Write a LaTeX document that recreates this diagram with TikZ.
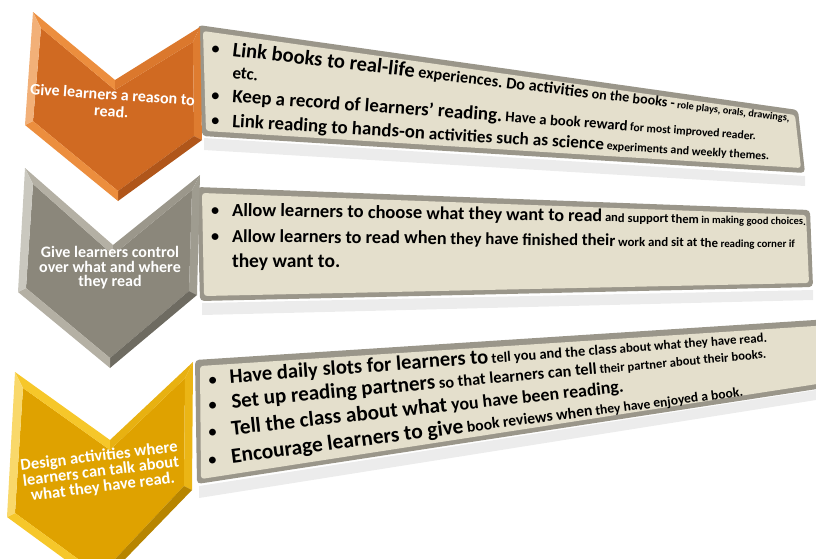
\documentclass[tikz,border=0pt]{standalone}
\usepackage{fontspec}
\setmainfont{Carlito}
\usetikzlibrary{calc}
\newcommand\sz[1]{\fontsize{#1}{#1}\selectfont}
\newcommand\szl[2]{\fontsize{#1}{#2}\selectfont}
\definecolor{beige}{HTML}{E4DFCC}
\definecolor{frameg}{HTML}{9A968A}
\definecolor{orMain}{HTML}{D06A22}
\definecolor{orLight}{HTML}{EC8E3E}
\definecolor{orDark}{HTML}{B0561A}
\definecolor{grMain}{HTML}{8B877B}
\definecolor{grLight}{HTML}{B4B0A4}
\definecolor{grDark}{HTML}{6E6B61}
\definecolor{goMain}{HTML}{DFA200}
\definecolor{goLight}{HTML}{F6C72A}
\definecolor{goDark}{HTML}{B78500}
\tikzset{
  wordst/.style={anchor=base west, inner sep=0pt, outer sep=0pt, text=black, text height=0.66em, text depth=0.14em},
  tl/.style={anchor=base west, inner sep=0pt, outer sep=0pt, font=\bfseries, text=black, text height=0.66em, text depth=0.14em},
  bul/.style={anchor=base, inner sep=0pt, outer sep=0pt, font=\bfseries\sz{16}},
  chevtext/.style={text=white, align=center, inner sep=0pt},
  boxframe/.style={fill=frameg, rounded corners=4pt},
  boxface/.style={fill=beige, rounded corners=3pt},
  boxshadow/.style={fill=black!12, opacity=0.6},
}
% ---- chevron drawn from coordinates <p>o1..<p>o6 and <p>i1..<p>i6
\newcommand\chevron[4]{%
  \fill[#2] (#1i1)--(#1i2)--(#1i3)--(#1i4)--(#1i5)--(#1i6)--cycle;
  \fill[#3] (#1o1)--(#1o2)--(#1i2)--(#1i1)--cycle;
  \fill[#2!60!#3] (#1o2)--(#1o3)--(#1i3)--(#1i2)--cycle;
  \fill[#2!50!#3] (#1o3)--(#1o4)--(#1i4)--(#1i3)--cycle;
  \fill[#4] (#1o4)--(#1o5)--(#1i5)--(#1i4)--cycle;
  \fill[#3] (#1o5)--(#1o6)--(#1i6)--(#1i5)--cycle;
  \fill[#3!70!white] (#1o6)--(#1o1)--(#1i1)--(#1i6)--cycle;
}
% ---- perspective text lines: one node per word
\newcount\wcount
\newdimen\linenat
\newbox\measbox
\def\cursz{18}
\def\curline{x}
\def\prevw{x}
\newcommand\placeword[1]{%
  \ifnum\wcount=0
    \node[wordst, font=\bfseries\sz{\cursz}] (\curline w\the\wcount) at (0,0) {#1};%
  \else
    \node[wordst, font=\bfseries\sz{\cursz}] (\curline w\the\wcount) at (\prevw.base east) {\ #1};%
  \fi
  \edef\prevw{\curline w\the\wcount}%
  \advance\wcount by 1
}
\def\wsplit#1 #2\wend{\placeword{#1}\ifx\relax#2\relax\else\wsplit#2\wend\fi}
\def\ckmeasure#1#2{\sz{#1}#2\ }
\def\ckplace#1#2{\def\cursz{#1}\wsplit#2 \wend}
% measure (outside the picture): #1 name, #2 target width, #3 chunks
\newcommand\measureline[3]{%
  \setbox\measbox=\hbox{\normalfont\bfseries\let\ck\ckmeasure #3\unskip}%
  \linenat=\wd\measbox
  \pgfmathsetmacro\lfactmp{#2/\the\linenat}%
  \expandafter\xdef\csname fac@#1\endcsname{\lfactmp}%
}
% place: #1 name, #2 x, #3 y, #4 angle, #5 chunks
\newcommand\wline[5]{%
  \begin{scope}[shift={(#2,#3)}, rotate=#4, scale=\csname fac@#1\endcsname, transform shape]
    \def\curline{#1}\wcount=0
    \let\ck\ckplace #5
  \end{scope}
}
\def\TLa{\ck{19}{Link books to real-life}\ck{15}{experiences. Do activities}\ck{13}{on the books -}\ck{9.5}{role plays, orals, drawings,}}
\def\TLb{\ck{18}{Keep a record of learners’ reading.}\ck{14}{Have a book reward}\ck{11}{for most improved reader.}}
\def\TLc{\ck{17.5}{Link reading to hands-on}\ck{16}{activities such as science}\ck{11}{experiments and weekly themes.}}
\def\TLd{\ck{18.5}{Allow learners to choose}\ck{18}{what they want to read}\ck{12.5}{and support them}\ck{10.5}{in making good choices.}}
\def\TLe{\ck{18.5}{Allow learners to read when}\ck{17}{they have finished their}\ck{13}{work and sit at the}\ck{11}{reading corner if}}
\def\TLf{\ck{20}{Have daily slots for learners to}\ck{14}{tell you and the class}\ck{12.5}{about what they have read.}}
\def\TLg{\ck{20}{Set up reading partners}\ck{15.5}{so that learners can tell}\ck{12}{their partner about their books.}}
\def\TLh{\ck{19}{Tell the class about what}\ck{16}{you have been reading.}}
\def\TLi{\ck{20.5}{Encourage learners to give}\ck{15}{book reviews when}\ck{13}{they have enjoyed a book.}}
\begin{document}
\measureline{la}{564}{\TLa}%
\measureline{lb}{526}{\TLb}%
\measureline{lc}{539}{\TLc}%
\measureline{ld}{575}{\TLd}%
\measureline{le}{565}{\TLe}%
\measureline{lf}{540}{\TLf}%
\measureline{lg}{538}{\TLg}%
\measureline{lh}{395}{\TLh}%
\measureline{li}{517}{\TLi}%
\begin{tikzpicture}[x=1pt,y=-1pt]
\useasboundingbox (0,0) rectangle (816,558);
\clip (0,0) rectangle (816,558);

% ---------- shadows ----------
\fill[boxshadow] (204,138)--(805,176)--(805,186)--(204,150)--cycle;
\fill[boxshadow] (202,303)--(813,290)--(813,300)--(202,315)--cycle;
\fill[boxshadow] (199,486)--(816,390)--(816,400)--(199,498)--cycle;

% ---------- box 1 ----------
\fill[boxframe] (198,25)--(798,110)--(805,173)--(202,136)--cycle;
\fill[boxface] (203,31)--(795,115)--(801,168)--(206,131)--cycle;
% ---------- box 2 ----------
\fill[boxframe] (197,187)--(810,210)--(813,287)--(200,301)--cycle;
\fill[boxface] (202,193)--(806,215)--(809,283)--(204,296)--cycle;
% ---------- box 3 ----------
\fill[boxframe] (195,360)--(830,319)--(830,387)--(197,484)--cycle;
\fill[boxface] (200,366)--(830,325)--(830,382)--(201,479)--cycle;

% ---------- chevrons ----------
\coordinate (Ao1) at (33,12);  \coordinate (Ao2) at (115,80);
\coordinate (Ao3) at (200,27); \coordinate (Ao4) at (202,140);
\coordinate (Ao5) at (118,201);\coordinate (Ao6) at (25,125);
\coordinate (Ai1) at (41,28);  \coordinate (Ai2) at (115,90);
\coordinate (Ai3) at (193,42); \coordinate (Ai4) at (194,136);
\coordinate (Ai5) at (118,191);\coordinate (Ai6) at (33,121);
\chevron{A}{orMain}{orLight}{orDark}

\coordinate (Bo1) at (25,168);  \coordinate (Bo2) at (113,245);
\coordinate (Bo3) at (200,175); \coordinate (Bo4) at (197,295);
\coordinate (Bo5) at (110,368); \coordinate (Bo6) at (18,292);
\coordinate (Bi1) at (33,184);  \coordinate (Bi2) at (113,255);
\coordinate (Bi3) at (192,190); \coordinate (Bi4) at (189,291);
\coordinate (Bi5) at (110,358); \coordinate (Bi6) at (26,288);
\chevron{B}{grMain}{grLight}{grDark}

\coordinate (Co1) at (15,372);  \coordinate (Co2) at (110,440);
\coordinate (Co3) at (193,362); \coordinate (Co4) at (192,490);
\coordinate (Co5) at (100,585); \coordinate (Co6) at (7,517);
\coordinate (Ci1) at (23,388);  \coordinate (Ci2) at (110,450);
\coordinate (Ci3) at (185,378); \coordinate (Ci4) at (184,486);
\coordinate (Ci5) at (100,575); \coordinate (Ci6) at (15,513);
\chevron{C}{goMain}{goLight}{goDark}

% ---------- chevron texts ----------
\node[chevtext, rotate=-4, font=\bfseries\szl{16}{17}] (ta) at (112,103) {Give learners a reason to\\read.};
\node[chevtext, font=\bfseries\szl{16}{14.5}] (tb) at (110,268) {Give learners control\\over what and where\\they read};
\node[chevtext, rotate=7, font=\bfseries\szl{16.5}{15.5}] (tc) at (101,472) {Design activities where\\learners can talk about\\what they have read.};

% ---------- box 1 text ----------
\node[bul, rotate=-6.7] (b1a) at (215,54) {•};
\node[bul, rotate=-4.1] (b1b) at (215,101) {•};
\node[bul, rotate=-3.5] (b1c) at (215,126) {•};
\wline{la}{232}{56}{-6.7}{\TLa}
\node[tl, rotate=-6.7, font=\bfseries\sz{17}] (lae) at (232,78) {etc.};
\wline{lb}{232}{102}{-4.14}{\TLb}
\wline{lc}{232}{127}{-3.51}{\TLc}

% ---------- box 2 text ----------
\node[bul, rotate=-0.9] (b2a) at (215,216) {•};
\node[bul, rotate=-0.6] (b2b) at (215,242) {•};
\wline{ld}{232}{216}{-0.9}{\TLd}
\wline{le}{232}{242}{-0.61}{\TLe}
\node[tl, font=\bfseries\sz{19.5}] (lee) at (232,267) {they want to.};

% ---------- box 3 text ----------
\node[bul, rotate=4.4] (b3a) at (213,385) {•};
\node[bul, rotate=5.3] (b3b) at (213,410) {•};
\node[bul, rotate=6.2] (b3c) at (213,437) {•};
\node[bul, rotate=7.4] (b3d) at (213,465) {•};
\wline{lf}{230}{383}{4.36}{\TLf}
\wline{lg}{232}{408}{5.33}{\TLg}
\wline{lh}{232}{435}{6.24}{\TLh}
\wline{li}{232}{463}{7.44}{\TLi}
\end{tikzpicture}
\end{document}
